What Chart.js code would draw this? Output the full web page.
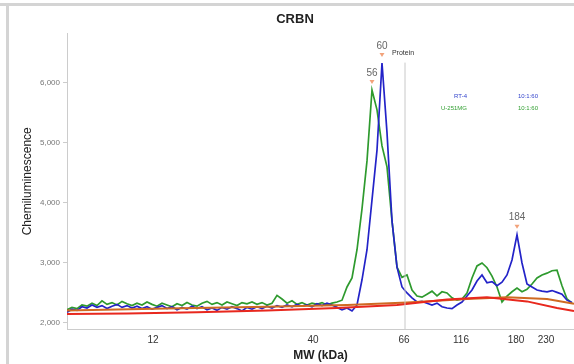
<!DOCTYPE html>
<html>
<head>
<meta charset="utf-8">
<script src="https://cdn.jsdelivr.net/npm/chart.js@4"></script>
<style>
html, body { margin: 0; padding: 0; background: #fff; }
#wrap { position: relative; width: 574px; height: 364px; overflow: hidden; }
#frameTop { position: absolute; left: 0; top: 3px; width: 574px; height: 3px; background: #d4d4d4; }
#frameLeft { position: absolute; left: 6px; top: 3px; width: 3px; height: 361px; background: #d4d4d4; }
canvas { position: absolute; left: 0; top: 0; }
</style>
</head>
<body>
<div id="wrap">
  <div id="frameTop"></div>
  <div id="frameLeft"></div>
  <canvas id="chart" width="574" height="364"></canvas>
</div>
<script>
// migration position along the capillary (arbitrary units)
let positions = [
  0, 5, 10, 15, 20, 25, 30, 35, 40, 45,
  50, 55, 60, 65, 70, 75, 80, 85, 90, 95,
  100, 105, 110, 115, 120, 125, 130, 135, 140, 145,
  150, 155, 160, 165, 170, 175, 180, 185, 190, 195,
  200, 205, 210, 215, 220, 225, 230, 235, 240, 245,
  250, 255, 260, 265, 270, 275, 280, 285, 290, 295,
  300, 305, 310, 315, 320, 325, 330, 335, 340, 345,
  350, 355, 360, 365, 370, 375, 380, 385, 390, 395,
  400, 405, 410, 415, 420, 425, 430, 435, 440, 445,
  450, 455, 460, 465, 470, 475, 480, 485, 490, 495,
  500, 505
]

// U-251MG trace
let greenValues = [
  2220, 2260, 2240, 2300, 2280, 2330, 2290, 2370, 2310, 2340,
  2300, 2360, 2320, 2290, 2330, 2300, 2350, 2310, 2280, 2330,
  2300, 2270, 2320, 2290, 2340, 2300, 2280, 2330, 2360, 2310,
  2340, 2300, 2350, 2320, 2290, 2340, 2320, 2350, 2310, 2340,
  2300, 2330, 2460, 2400, 2330, 2370, 2310, 2340, 2300, 2330,
  2310, 2340, 2300, 2330, 2350, 2380, 2600, 2750, 3220, 3900,
  4700, 5880, 5550, 4950, 4600, 3700, 2930, 2760, 2800, 2550,
  2450, 2430, 2480, 2530, 2450, 2520, 2500, 2420, 2380, 2400,
  2500, 2750, 2950, 3000, 2920, 2780, 2600, 2350, 2450, 2520,
  2580, 2520, 2560, 2650, 2750, 2800, 2830, 2870, 2880, 2620,
  2400, 2330
]

// RT-4 trace
let blueValues = [
  2180, 2230, 2210, 2270, 2250, 2300, 2260, 2290, 2240, 2280,
  2310, 2260, 2290, 2250, 2280, 2240, 2270, 2230, 2260, 2290,
  2240, 2270, 2220, 2260, 2230, 2280, 2240, 2270, 2220, 2250,
  2210, 2260, 2230, 2270, 2240, 2200, 2260, 2230, 2270, 2240,
  2280, 2250, 2290, 2260, 2300, 2270, 2310, 2280, 2300, 2270,
  2320, 2290, 2330, 2300, 2260, 2220, 2250, 2200, 2300, 2720,
  3220, 4050, 4880, 6330, 5170, 3700, 2930, 2600, 2500, 2420,
  2350, 2360, 2330, 2300, 2330, 2270, 2250, 2240, 2300, 2350,
  2450, 2550, 2700, 2800, 2670, 2690, 2620, 2680, 2800, 3050,
  3470, 3000, 2650, 2600, 2550, 2530, 2520, 2540, 2510, 2480,
  2380, 2340
]

// baselines
let redBaseX = [0, 60, 130, 200, 270, 330, 380, 420, 460, 490, 507]
let redBaseY = [2150, 2160, 2180, 2210, 2250, 2300, 2390, 2430, 2360, 2250, 2200]
let orangeBaseX = [0, 100, 200, 280, 340, 400, 440, 480, 507]
let orangeBaseY = [2210, 2240, 2270, 2300, 2340, 2400, 2430, 2400, 2320]

// x tick positions and MW labels
let mwTickPos = [86, 246, 337, 394, 449, 479]
let mwTickLabels = ["12", "40", "66", "116", "180", "230"]
let yTicks = [2000, 3000, 4000, 5000, 6000]

// peaks
let peakPos = [305, 315, 450]
let peakVal = [5880, 6330, 3470]
let peakLabels = ["56", "60", "184"]
let proteinPos = 338

let toPoints = (xs, ys) => xs.map((x, i) => ({ x: x, y: ys[i] }))

const annotations = {
    id: "annotations",
    afterDatasetsDraw(chart) {
        const { ctx, scales: { x, y }, chartArea } = chart
        ctx.save()
        // protein line
        let px = x.getPixelForValue(proteinPos)
        ctx.strokeStyle = "#c8c8c8"
        ctx.lineWidth = 1
        ctx.beginPath()
        ctx.moveTo(px, chartArea.top + 29)
        ctx.lineTo(px, chartArea.bottom)
        ctx.stroke()
        ctx.fillStyle = "#333"
        ctx.font = "7px 'Liberation Sans', Arial, sans-serif"
        ctx.textAlign = "center"
        ctx.textBaseline = "middle"
        ctx.fillText("Protein", px - 2, chartArea.top + 19)

        // peak markers
        peakPos.forEach((p, i) => {
            let cx = x.getPixelForValue(p)
            let cy = y.getPixelForValue(peakVal[i])
            ctx.fillStyle = "#f2a27a"
            ctx.beginPath()
            ctx.moveTo(cx - 2.5, cy - 10)
            ctx.lineTo(cx + 2.5, cy - 10)
            ctx.lineTo(cx, cy - 6)
            ctx.closePath()
            ctx.fill()
            ctx.fillStyle = "#666"
            ctx.font = "10px 'Liberation Sans', Arial, sans-serif"
            ctx.fillText(peakLabels[i], cx, cy - 17)
        })

        // sample labels
        ctx.font = "6px 'Liberation Sans', Arial, sans-serif"
        ctx.textAlign = "right"
        ctx.fillStyle = "#3344cc"
        ctx.fillText("RT-4", 467, 96)
        ctx.fillText("10:1:60", 538, 96)
        ctx.fillStyle = "#33a033"
        ctx.fillText("U-251MG", 467, 108)
        ctx.fillText("10:1:60", 538, 108)
        ctx.restore()
    }
}

let myChart = document.getElementById("chart").getContext("2d")
let chart = new Chart(myChart, {
    type: "line",
    data: {
        datasets: [{
            data: toPoints(redBaseX, redBaseY),
            borderColor: "#e8281e",
            borderWidth: 2
        },
        {
            data: toPoints(orangeBaseX, orangeBaseY),
            borderColor: "#cf6a22",
            borderWidth: 2
        },
        {
            data: toPoints(positions, blueValues),
            borderColor: "#2323c8",
            borderWidth: 1.7
        },
        {
            data: toPoints(positions, greenValues),
            borderColor: "#2e9a2e",
            borderWidth: 1.7
        }]
    },
    options: {
        responsive: false,
        animation: false,
        elements: {
            point: { radius: 0 },
            line: { tension: 0 }
        },
        layout: {
            padding: { left: 16, right: 0, top: 0, bottom: 0 }
        },
        plugins: {
            legend: { display: false },
            tooltip: { enabled: false },
            title: {
                display: true,
                text: "CRBN",
                color: "#222",
                font: { size: 13, weight: "bold", family: "'Liberation Sans', Arial, sans-serif" },
                padding: { top: 12, bottom: 6 }
            }
        },
        scales: {
            x: {
                type: "linear",
                min: 0,
                max: 507,
                grid: { display: false, drawTicks: false },
                border: { color: "#cccccc" },
                afterBuildTicks: s => { s.ticks = mwTickPos.map(v => ({ value: v })) },
                afterFit: s => { s.height = 35 },
                ticks: {
                    padding: 5,
                    maxRotation: 0,
                    color: "#333",
                    font: { size: 10, family: "'Liberation Sans', Arial, sans-serif" },
                    callback: v => mwTickLabels[mwTickPos.indexOf(v)]
                },
                title: {
                    display: true,
                    text: "MW (kDa)",
                    color: "#222",
                    font: { size: 12, weight: "bold", family: "'Liberation Sans', Arial, sans-serif" },
                    padding: { top: 0, bottom: 1 }
                }
            },
            y: {
                min: 1900,
                max: 6820,
                grid: { drawOnChartArea: false, tickLength: 4, color: "#cccccc" },
                border: { color: "#cccccc" },
                afterBuildTicks: s => { s.ticks = yTicks.map(v => ({ value: v })) },
                afterFit: s => { s.width = 51 },
                ticks: {
                    padding: 3,
                    color: "#777",
                    font: { size: 8, family: "'Liberation Sans', Arial, sans-serif" },
                    callback: v => v.toLocaleString("en-US")
                },
                title: {
                    display: true,
                    text: "Chemiluminescence",
                    color: "#222",
                    font: { size: 12, family: "'Liberation Sans', Arial, sans-serif" }
                }
            }
        }
    },
    plugins: [annotations]
})
</script>
</body>
</html>
